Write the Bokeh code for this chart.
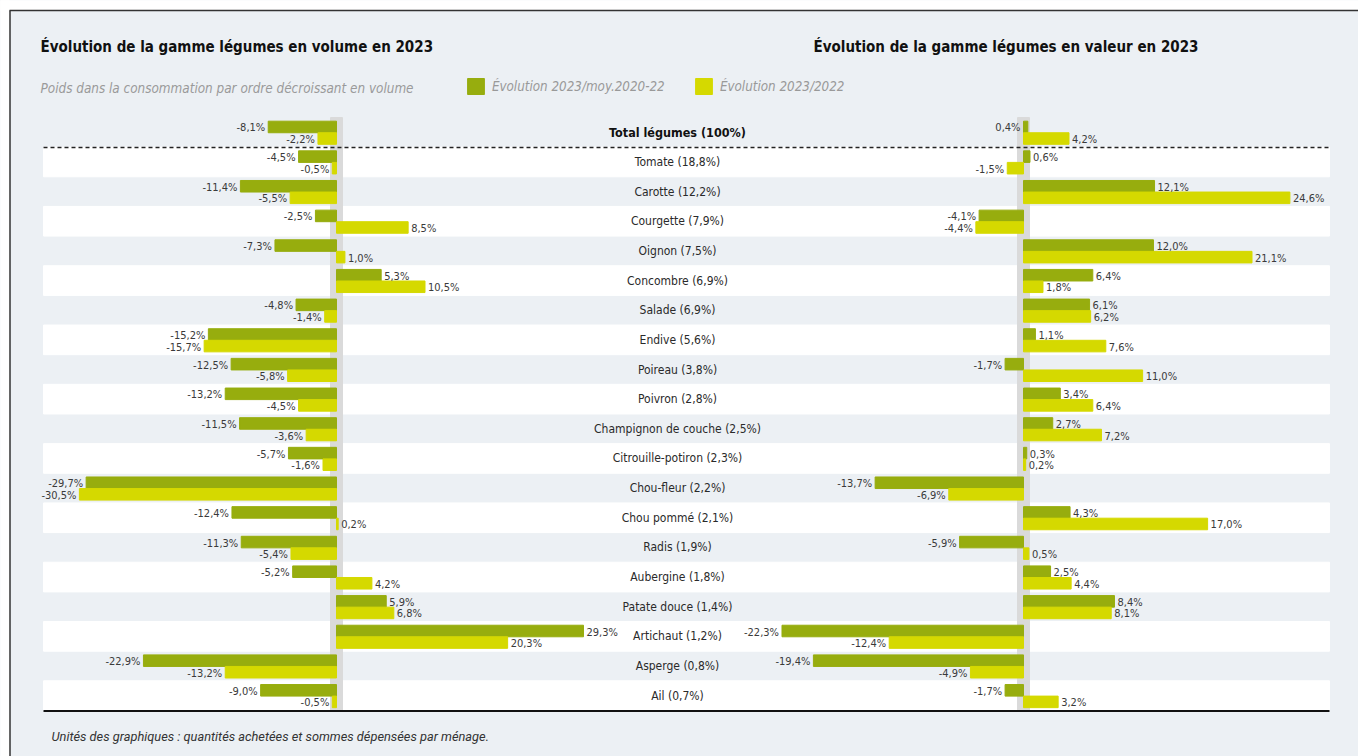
from bokeh.plotting import figure
from bokeh.models import Range1d, ColumnDataSource, Legend, LegendItem
from bokeh.core.properties import value
from bokeh.embed import file_html
from bokeh.resources import INLINE

# ---------------- data ----------------
categories = [
    "Total légumes (100%)", "Tomate (18,8%)", "Carotte (12,2%)", "Courgette (7,9%)",
    "Oignon (7,5%)", "Concombre (6,9%)", "Salade (6,9%)", "Endive (5,6%)",
    "Poireau (3,8%)", "Poivron (2,8%)", "Champignon de couche (2,5%)",
    "Citrouille-potiron (2,3%)", "Chou-fleur (2,2%)", "Chou pommé (2,1%)",
    "Radis (1,9%)", "Aubergine (1,8%)", "Patate douce (1,4%)", "Artichaut (1,2%)",
    "Asperge (0,8%)", "Ail (0,7%)",
]
volume_vs_moy = [-8.1, -4.5, -11.4, -2.5, -7.3, 5.3, -4.8, -15.2, -12.5, -13.2,
                 -11.5, -5.7, -29.7, -12.4, -11.3, -5.2, 5.9, 29.3, -22.9, -9.0]
volume_vs_2022 = [-2.2, -0.5, -5.5, 8.5, 1.0, 10.5, -1.4, -15.7, -5.8, -4.5,
                  -3.6, -1.6, -30.5, 0.2, -5.4, 4.2, 6.8, 20.3, -13.2, -0.5]
valeur_vs_moy = [0.4, 0.6, 12.1, -4.1, 12.0, 6.4, 6.1, 1.1, -1.7, 3.4,
                 2.7, 0.3, -13.7, 4.3, -5.9, 2.5, 8.4, -22.3, -19.4, -1.7]
valeur_vs_2022 = [4.2, -1.5, 24.6, -4.4, 21.1, 1.8, 6.2, 7.6, 11.0, 6.4,
                  7.2, 0.2, -6.9, 17.0, 0.5, 4.4, 8.1, -12.4, -4.9, 3.2]
series_names = ["Évolution 2023/moy.2020-22", "Évolution 2023/2022"]
title_volume = "Évolution de la gamme légumes en volume en 2023"
title_valeur = "Évolution de la gamme légumes en valeur en 2023"
subtitle = "Poids dans la consommation par ordre décroissant en volume"
footer = "Unités des graphiques : quantités achetées et sommes dépensées par ménage."

# ---------------- style / layout ----------------
BG = "#ECF0F4"
GREEN = "#97AD0E"
YELLOW = "#D5D900"
BAND = "#DADADA"
COND = "'DejaVu Sans Condensed', sans-serif"

W, H, OFF = 1358, 756, 0
ZERO_L, SCALE_L = 336.0, 8.43     # page px of zero, px per % (volume chart)
ZERO_R, SCALE_R = 1023.0, 10.83   # page px of zero, px per % (valeur chart)
ROW0, ROW_H = 131.8, 29.65        # page y of first row centre, row pitch
BAR_H, DY_G, DY_Y = 0.39, -0.18, 0.21


def lx(px):
    return (px - ZERO_L) / SCALE_L


def rx(px):
    return (px - ZERO_R) / SCALE_R


def ry(py):
    return (py - ROW0) / ROW_H


p = figure(width=W, height=H, output_backend="svg", toolbar_location=None, tools="",
           x_range=Range1d(lx(OFF), lx(OFF + W)),
           y_range=Range1d(ry(OFF + H), ry(OFF)),
           x_axis_location=None, y_axis_location=None, min_border=0,
           background_fill_color=BG, border_fill_color="white", outline_line_color=None)
p.extra_x_ranges = {"right": Range1d(rx(OFF), rx(OFF + W))}
p.grid.visible = False

n = len(categories)
idx = list(range(n))

# page margin area (white) and panel background
p.quad(left=[lx(OFF)], right=[lx(OFF + W)], top=[ry(OFF)], bottom=[ry(10)], color="white")
p.quad(left=[lx(OFF)], right=[lx(9)], top=[ry(OFF)], bottom=[ry(OFF + H)], color="white")

# alternating white row bands
odd = [i for i in idx if i % 2 == 1]
p.hbar(y=odd, left=lx(43), right=lx(1329), height=1.0, color="white")

# zero bands
p.quad(left=[lx(330)], right=[lx(342)], top=[ry(117)], bottom=[ry(711)], color=BAND)
p.quad(left=[rx(1017)], right=[rx(1029)], top=[ry(117)], bottom=[ry(711)], color=BAND,
       x_range_name="right")

# bars
yg = [i + DY_G for i in idx]
yy = [i + DY_Y for i in idx]
rg = p.hbar(y=yg, left=0, right=volume_vs_moy, height=BAR_H, color=GREEN)
ry_ = p.hbar(y=yy, left=0, right=volume_vs_2022, height=BAR_H, color=YELLOW)
p.hbar(y=yg, left=0, right=valeur_vs_moy, height=BAR_H, color=GREEN, x_range_name="right")
p.hbar(y=yy, left=0, right=valeur_vs_2022, height=BAR_H, color=YELLOW, x_range_name="right")


def fmt(v):
    return f"{v:.1f}".replace(".", ",") + "%"


def label_source(vals, ys, force_left=()):
    xs, txt, al, xo = [], [], [], []
    for k, v in enumerate(vals):
        left = v < 0 or k in force_left
        xs.append(0 if (k in force_left) else v)
        txt.append(fmt(v))
        al.append("right" if left else "left")
        xo.append(-3 if left else 3)
    return ColumnDataSource(dict(x=xs, y=ys, t=txt, a=al, xo=xo))


lab_kw = dict(text="t", text_align="a", x_offset="xo", y_offset=1, text_baseline="middle",
              text_font=value(COND), text_font_size="11px", text_color="#3a3a3a")
p.text(x="x", y="y", source=label_source(volume_vs_moy, yg), **lab_kw)
p.text(x="x", y="y", source=label_source(volume_vs_2022, yy), **lab_kw)
p.text(x="x", y="y", source=label_source(valeur_vs_moy, yg, force_left=(0,)),
       x_range_name="right", **lab_kw)
p.text(x="x", y="y", source=label_source(valeur_vs_2022, yy), x_range_name="right", **lab_kw)

# category labels
p.text(x=lx(677), y=idx[1:], text=categories[1:], text_align="center", text_baseline="middle",
       text_font=value(COND), text_font_size="12px", text_color="#2a2a2a")
p.text(x=lx(677), y=[idx[0]], text=[categories[0]], text_align="center", text_baseline="middle",
       text_font=value(COND), text_font_size="12.5px", text_font_style="bold", text_color="#111111")

# separators
p.segment(x0=lx(43), x1=lx(1329), y0=ry(147), y1=ry(147), line_color="#222222",
          line_width=1.5, line_dash="4 3")
p.segment(x0=lx(43), x1=lx(1329), y0=ry(710.5), y1=ry(710.5), line_color="#111111",
          line_width=2)
# frame border (top / left)
p.segment(x0=[lx(9), lx(9.5)], x1=[lx(1358), lx(9.5)], y0=[ry(10), ry(10)],
          y1=[ry(10), ry(756)], line_color="#333333", line_width=1.5)

# titles
p.text(x=[lx(40), lx(813)], y=[ry(46), ry(46)], text=[title_volume, title_valeur],
       text_baseline="middle", text_font=value(COND), text_font_size="15px",
       text_font_style="bold", text_color="#111111")
p.text(x=[lx(40)], y=[ry(88)], text=[subtitle], text_baseline="middle",
       text_font=value(COND), text_font_size="13.4px", text_font_style="italic",
       text_color="#9a9a9a")
p.text(x=[lx(51)], y=[ry(736)], text=[footer], text_baseline="middle",
       text_font=value("Roboto"), text_font_size="12.8px", text_font_style="italic",
       text_color="#333333")

# legends
leg_kw = dict(orientation="horizontal", glyph_width=21, glyph_height=20, label_standoff=6,
              padding=0, margin=0, border_line_alpha=0, background_fill_alpha=0,
              label_text_font=COND, label_text_font_style="italic",
              label_text_font_size="13.3px", label_text_color="#999999", label_height=20)
leg1 = Legend(items=[LegendItem(label=series_names[0], renderers=[rg])],
              location=(464.9 - OFF, H - (96 - OFF)), **leg_kw)
leg2 = Legend(items=[LegendItem(label=series_names[1], renderers=[ry_])],
              location=(692.9 - OFF, H - (96 - OFF)), **leg_kw)
p.add_layout(leg1)
p.add_layout(leg2)

open("out.html", "w").write(file_html(p, INLINE))
